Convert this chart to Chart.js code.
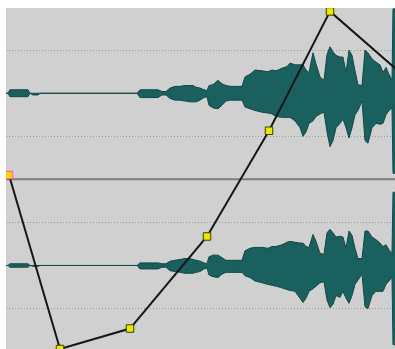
<!DOCTYPE html>
<html>
<head>
<meta charset="utf-8">
<title>Envelope</title>
<script src="https://cdn.jsdelivr.net/npm/chart.js@4.4.0/dist/chart.umd.min.js"></script>
<style>
  html, body { margin: 0; padding: 0; background: #fff; }
  #wrap { position: absolute; left: 6px; top: 8px; width: 389px; height: 341px; background: #d0d0d0; }
  #chart { display: block; }
</style>
</head>
<body>
<div id="wrap"><canvas id="chart" width="389" height="341"></canvas></div>
<script>
// --- DATOS ---
// columnas de tiempo (unidades de muestra, 0 = inicio del clip)
const times = [0, 2, 4, 22, 24, 27, 32, 34, 131, 134, 152, 156, 160, 164, 169, 174, 179, 184, 187, 190,
  194, 198, 201, 203, 207, 212, 216, 220, 224, 230, 236, 239, 244, 249, 256, 262, 266, 270, 276, 281,
  284, 289, 294, 297, 300, 303, 307, 310, 314, 318, 321, 324, 327, 330, 334, 337, 340, 343, 346, 349,
  352, 356, 359, 362, 366, 370, 374, 377, 380, 383, 386, 387, 389];

// canal superior (amplitud en %)
const topUpper = [0, 0, 4, 4, 0, 0, 0, 0, 0, 4, 4, 2, 2, 6, 8, 8, 9, 9, 9, 7,
  6, 4, 3, 9, 10, 15, 11, 9, 8, 8, 8, 19, 22, 27, 26, 25, 27, 26, 29, 31,
  35, 33, 33, 33, 27, 24, 47, 34, 19, 15, 45, 54, 48, 44, 42, 42, 24, 50, 44, 26,
  10, 9, 50, 47, 40, 36, 33, 24, 30, 22, 15, 98, 98];
const topLower = [0, 0, -4, -4, 0, -2, -2, 0, 0, -5, -5, -2, -2, -6, -8, -8, -9, -10, -10, -10,
  -8, -5, -4, -14, -17, -18, -14, -9, -8, -8, -8, -16, -18, -20, -22, -23, -24, -27, -28, -28,
  -28, -32, -40, -50, -45, -35, -32, -27, -24, -22, -45, -62, -55, -40, -35, -30, -40, -52, -40, -25,
  -20, -9, -55, -58, -40, -35, -36, -35, -25, -20, -17, -93, -93];

// canal inferior (amplitud en %)
const botUpper = [0, 0, 2, 2, 0, 0, 0, 0, 0, 3, 3, 2, 2, 5, 6, 7, 8, 8, 7, 6,
  5, 3, 2, 10, 12, 12, 9, 6, 6, 6, 6, 17, 20, 21, 21, 20, 22, 22, 24, 27,
  28, 27, 26, 26, 22, 21, 36, 28, 14, 13, 38, 42, 38, 33, 34, 33, 20, 40, 35, 20,
  8, 8, 40, 40, 33, 30, 26, 22, 24, 18, 14, 85, 85];
const botLower = [0, 0, -2, -2, 0, -1, -1, 0, 0, -4, -4, -2, -2, -6, -7, -8, -9, -9, -9, -8,
  -7, -4, -3, -11, -13, -14, -10, -8, -8, -8, -8, -12, -14, -18, -20, -22, -23, -24, -26, -28,
  -29, -30, -38, -43, -38, -30, -27, -24, -20, -19, -40, -49, -45, -35, -37, -30, -38, -44, -35, -22,
  -17, -10, -48, -50, -35, -30, -30, -30, -22, -18, -14, -92, -92];

// envolvente de volumen
const envTimes = [3, 54, 124, 201, 263, 324, 414];
const envLevels = [51, 0, 6, 33, 64, 99, 76];

// líneas punteadas de referencia (en unidades del eje de canales)
const gridLevels = [1.5, 0.5, -0.5, -1.5];

// --- GRÁFICO ---
const WAVE_FILL = '#19605f';
const WAVE_EDGE = '#0f4847';

const toPoints = (center, values) => values.map((v, i) => ({ x: times[i], y: center + v / 100 }));

const waveSet = (data, fill) => ({
    data,
    yAxisID: 'y',
    borderColor: WAVE_EDGE,
    borderWidth: 1,
    backgroundColor: WAVE_FILL,
    pointRadius: 0,
    tension: 0,
    fill
});

new Chart(document.querySelector('#chart'), {
    type: 'line',
    data: {
        datasets: [
            {
                // envolvente (arriba de todo)
                data: envTimes.map((t, i) => ({ x: t, y: envLevels[i] })),
                yAxisID: 'env',
                borderColor: '#161616',
                borderWidth: 2,
                pointStyle: 'rect',
                pointRadius: 5.3,
                pointBorderWidth: 1,
                pointBackgroundColor: envTimes.map((t, i) => i === 0 ? '#ffd200' : '#e8e800'),
                pointBorderColor: envTimes.map((t, i) => i === 0 ? '#ff4fc8' : '#3c3c00'),
                tension: 0,
                fill: false
            },
            {
                // divisor entre canales
                data: [{ x: 0, y: 0 }, { x: 389, y: 0 }],
                yAxisID: 'y',
                borderColor: '#7c7c7c',
                borderWidth: 2,
                pointRadius: 0,
                fill: false
            },
            waveSet(toPoints(1, topUpper), false),
            waveSet(toPoints(1, topLower), 2),
            waveSet(toPoints(-1, botUpper), false),
            waveSet(toPoints(-1, botLower), 4)
        ]
    },
    options: {
        responsive: false,
        animation: false,
        events: [],
        layout: { padding: 0, autoPadding: false },
        plugins: {
            legend: { display: false },
            tooltip: { enabled: false }
        },
        scales: {
            x: { type: 'linear', min: 0, max: 389, display: false },
            y: {
                min: -1.97,
                max: 1.99,
                ticks: { display: false, padding: 0 },
                grid: { color: '#989898', lineWidth: 1, drawTicks: false },
                border: { display: false, dash: [1, 2] },
                afterBuildTicks: (axis) => { axis.ticks = gridLevels.map(v => ({ value: v })); }
            },
            env: { min: 0, max: 100, display: false }
        }
    }
});
</script>
</body>
</html>
